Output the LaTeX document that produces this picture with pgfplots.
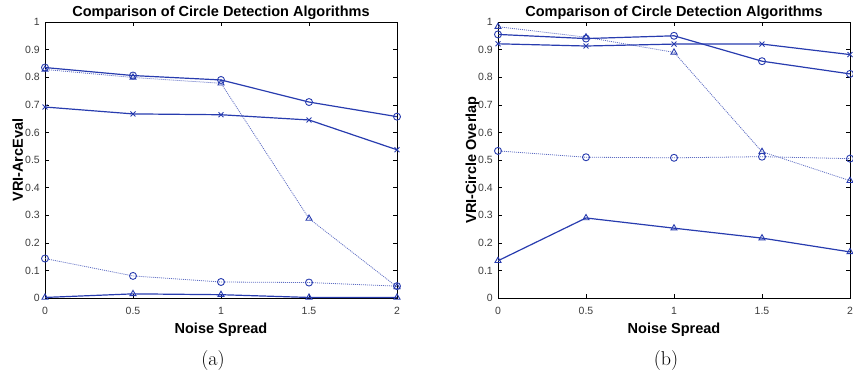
\documentclass[border=0pt]{standalone}
\usepackage{fontspec}
\usepackage{pgfplots}
\pgfplotsset{compat=1.18}
\newfontfamily\arial{Liberation Sans}
\definecolor{mblue}{RGB}{40,60,175}
\definecolor{tickgray}{RGB}{60,60,60}
\pgfplotsset{
 myax/.style={
  scale only axis, width=352pt, height=276pt,
  xmin=0,xmax=2,ymin=0,ymax=1,
  xtick={0,0.5,1,1.5,2}, ytick={0,0.1,0.2,0.3,0.4,0.5,0.6,0.7,0.8,0.9,1},
  tick align=inside, major tick length=4pt,
  axis line style={line width=1pt},
  every tick/.style={black, line width=0.6pt},
  /pgf/number format/assume math mode=true,
  ticklabel style={font=\arial\fontsize{10.5}{12}\selectfont, text=tickgray},
  xticklabel style={anchor=base, inner sep=0pt, yshift=-16pt},
  yticklabel style={anchor=east, inner sep=0pt, xshift=-5pt},
  title style={font=\arial\bfseries\fontsize{14.5}{17}\selectfont, at={(axis description cs:0.5,1)}, anchor=base},
  xlabel style={font=\arial\bfseries\fontsize{14.5}{17}\selectfont, at={(axis description cs:0.5,0)}, anchor=base, yshift=-35pt},
  ylabel style={font=\arial\bfseries\fontsize{14.5}{17}\selectfont, anchor=base, at={(axis description cs:-0.0625,0.5)}},
  title={Comparison of Circle Detection Algorithms},
  xlabel={Noise Spread},
  sol/.style={mblue, line width=1.2pt, mark size=3.5pt, mark options={solid, line width=0.9pt}},
  dot/.style={mblue!75, dash pattern=on 1pt off 1pt, line width=0.8pt, mark size=3.5pt, mark options={solid, line width=0.9pt, mblue}},
 }
}
\begin{document}
\begin{tikzpicture}[x=1pt,y=1pt]
\path[use as bounding box] (0,0) rectangle (853,-375);
\begin{axis}[myax, at={(45pt,-298pt)}, anchor=south west, ylabel={VRI-ArcEval}]
\addplot[dot, mark=triangle] coordinates {(0,0.828)(0.5,0.799)(1,0.778)(1.5,0.288)(2,0.040)};
\addplot[dot, mark=o] coordinates {(0,0.143)(0.5,0.080)(1,0.058)(1.5,0.056)(2,0.043)};
\addplot[sol, mark=o] coordinates {(0,0.835)(0.5,0.806)(1,0.790)(1.5,0.710)(2,0.657)};
\addplot[sol, mark=x] coordinates {(0,0.692)(0.5,0.667)(1,0.664)(1.5,0.645)(2,0.537)};
\addplot[sol, mark=triangle] coordinates {(0,0.002)(0.5,0.015)(1,0.012)(1.5,0.002)(2,0.002)};
\end{axis}
\begin{axis}[myax, at={(498pt,-298pt)}, anchor=south west, ylabel={VRI-Circle Overlap}]
\addplot[dot, mark=triangle] coordinates {(0,0.983)(0.5,0.945)(1,0.890)(1.5,0.530)(2,0.425)};
\addplot[dot, mark=o] coordinates {(0,0.533)(0.5,0.510)(1,0.508)(1.5,0.512)(2,0.505)};
\addplot[sol, mark=o] coordinates {(0,0.955)(0.5,0.940)(1,0.950)(1.5,0.858)(2,0.812)};
\addplot[sol, mark=x] coordinates {(0,0.921)(0.5,0.913)(1,0.920)(1.5,0.920)(2,0.882)};
\addplot[sol, mark=triangle] coordinates {(0,0.135)(0.5,0.290)(1,0.253)(1.5,0.217)(2,0.167)};
\end{axis}
\node[font=\fontsize{20}{24}\selectfont, anchor=base] at (213,-365) {(a)};
\node[font=\fontsize{20}{24}\selectfont, anchor=base] at (666,-365) {(b)};
\end{tikzpicture}
\end{document}
